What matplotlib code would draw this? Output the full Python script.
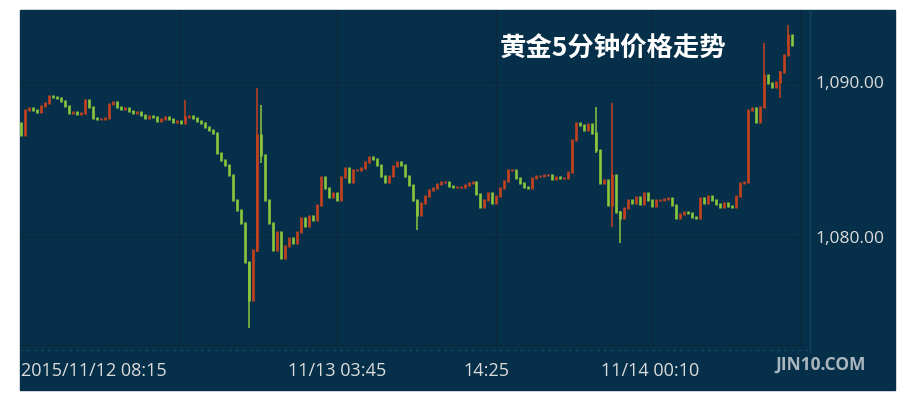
import matplotlib
matplotlib.use("Agg")
import matplotlib.pyplot as plt
from matplotlib.patches import Rectangle
from matplotlib.lines import Line2D
import numpy as np

# 5-minute closes (open of each bar = previous close)
first_open = 1087.40
closes = [
    1086.58, 1088.19, 1088.32, 1088.19, 1088.06, 1088.45, 1088.64, 1089.10, 1089.03, 1088.97,
    1088.77, 1088.45, 1088.00, 1088.06, 1087.93, 1088.00, 1088.84, 1088.39, 1087.68, 1087.61,
    1087.61, 1087.68, 1088.58, 1088.71, 1088.39, 1088.26, 1088.32, 1088.13, 1088.00, 1088.06,
    1087.87, 1087.68, 1087.81, 1087.74, 1087.48, 1087.61, 1087.74, 1087.61, 1087.42, 1087.48,
    1087.35, 1087.74, 1087.81, 1087.68, 1087.48, 1087.35, 1087.10, 1086.90, 1086.71, 1085.42,
    1084.97, 1084.64, 1084.00, 1082.39, 1081.74, 1080.90, 1078.39, 1075.93, 1079.16, 1086.58,
    1085.29, 1082.39, 1080.90, 1079.16, 1080.32, 1078.64, 1079.42, 1079.93, 1079.61, 1080.32,
    1081.22, 1080.71, 1081.35, 1081.10, 1082.06, 1083.87, 1083.16, 1082.58, 1082.84, 1082.39,
    1083.87, 1084.45, 1083.55, 1084.32, 1084.32, 1084.45, 1084.84, 1085.16, 1085.03, 1084.64,
    1083.93, 1083.55, 1083.93, 1084.58, 1084.84, 1084.64, 1083.93, 1083.35, 1082.39, 1081.42,
    1082.19, 1082.64, 1083.03, 1083.16, 1083.42, 1083.55, 1083.55, 1083.29, 1083.22, 1083.22,
    1083.22, 1083.35, 1083.48, 1083.55, 1082.77, 1081.93, 1082.39, 1082.84, 1082.19, 1082.64,
    1083.16, 1083.61, 1084.32, 1084.32, 1083.81, 1083.48, 1083.22, 1083.16, 1083.81, 1083.93,
    1083.93, 1084.00, 1084.00, 1083.74, 1083.87, 1083.81, 1083.81, 1084.19, 1086.26, 1087.35,
    1087.22, 1086.90, 1087.29, 1086.71, 1085.61, 1083.48, 1083.68, 1082.06, 1084.00, 1081.61,
    1081.22, 1081.87, 1082.39, 1082.19, 1082.58, 1082.13, 1082.84, 1082.39, 1082.00, 1082.39,
    1082.39, 1082.45, 1082.52, 1082.06, 1081.22, 1081.48, 1081.61, 1081.55, 1081.29, 1081.22,
    1082.52, 1082.19, 1082.64, 1082.39, 1082.13, 1081.93, 1082.19, 1082.00, 1081.93, 1082.64,
    1083.48, 1083.55, 1088.19, 1088.32, 1087.42, 1088.39, 1090.45, 1089.93, 1089.68, 1090.00,
    1090.64, 1091.74, 1093.03, 1092.39,
]
# longer wicks on the spike bars: index -> (low, high)
wicks = {
    41: (1087.60, 1088.84), 57: (1074.13, 1078.40), 59: (1079.00, 1089.61),
    60: (1084.80, 1088.52), 99: (1080.45, 1082.30), 144: (1085.40, 1088.39),
    148: (1080.64, 1088.64), 150: (1079.61, 1081.70), 186: (1089.90, 1092.52),
    190: (1088.97, 1090.70), 192: (1092.30, 1093.68),
}
x_ticks = [0, 79, 116.5, 157.5]
x_labels = ["2015/11/12 08:15", "11/13 03:45", "14:25", "11/14 00:10"]
grid_x = [39.5, 79, 119, 158]
y_ticks = [1080, 1090]
y_labels = ["1,080.00", "1,090.00"]
title = "黄金5分钟价格走势"

bg = "#06304a"
grid_c = "#0b2739"
up_c = "#c4421e"
down_c = "#8cc63c"

W, H = 907, 399
fig = plt.figure(figsize=(W / 100, H / 100), dpi=100)
fig.patch.set_facecolor("white")
panel = Rectangle((20 / W, 1 - 390 / H), 875 / W, 380 / H,
                  transform=fig.transFigure, color=bg, zorder=-5)
fig.patches.append(panel)

ax = fig.add_axes([20 / W, 1 - 345 / H, 780 / W, 335 / H])
ax.set_facecolor(bg)
ax.set_zorder(2)

closes = np.array(closes)
opens = np.concatenate([[first_open], closes[:-1]])
idx = np.arange(len(closes))
colors = [up_c if c >= o else down_c for o, c in zip(opens, closes)]

for i, (lo, hi) in wicks.items():
    ax.vlines(i, lo, hi, color=colors[i], lw=1.1, zorder=3)
lo_b = np.minimum(opens, closes) - 0.05
hi_b = np.maximum(opens, closes) + 0.05
ax.vlines(idx, lo_b, hi_b, colors=colors, lw=1.9, zorder=4)

for gx in grid_x:
    ax.axvline(gx, color=grid_c, lw=1, zorder=1)
for gy in y_ticks:
    ax.axhline(gy, color=grid_c, lw=1, zorder=1)

ax.set_xlim(-0.3, 195)
ax.set_ylim(1073.03, 1094.65)

ax.set_xticks(x_ticks)
ax.set_xticklabels(x_labels)
ax.get_xticklabels()[0].set_ha("left")
ax.tick_params(axis="x", length=0, pad=12, labelsize=13, labelcolor="#dcdcdc")
ax.yaxis.tick_right()
ax.set_yticks(y_ticks)
ax.set_yticklabels(y_labels)
ax.tick_params(axis="y", length=0, pad=11, labelsize=12.5, labelcolor="#dcdcdc")
for lab in ax.get_xticklabels() + ax.get_yticklabels():
    lab.set_family(["Open Sans", "DejaVu Sans"])

for s in ["top", "left"]:
    ax.spines[s].set_visible(False)
for s in ["right", "bottom"]:
    ax.spines[s].set_color(grid_c)

# faint outer axis lines
fig.add_artist(Line2D([20 / W, 810 / W], [1 - 350 / H, 1 - 350 / H],
                      transform=fig.transFigure, color="#134560", lw=1, ls=(0, (2, 3)), zorder=1))
fig.add_artist(Line2D([810 / W, 810 / W], [1 - 10 / H, 1 - 353 / H],
                      transform=fig.transFigure, color="#134560", lw=1, zorder=1))

fig.text(613 / W, 1 - 49 / H, title, ha="center", va="center", zorder=5,
         color="white", fontsize=19, fontweight="bold", family=["Noto Sans CJK SC", "DejaVu Sans"])
fig.text(820 / W, 1 - 365 / H, "JIN10.COM", ha="center", va="center", color="#a9b6be",
         fontsize=12.5, fontweight="bold", family=["Open Sans", "DejaVu Sans"], zorder=5)

fig.savefig("out.png", dpi=100, facecolor="white")
